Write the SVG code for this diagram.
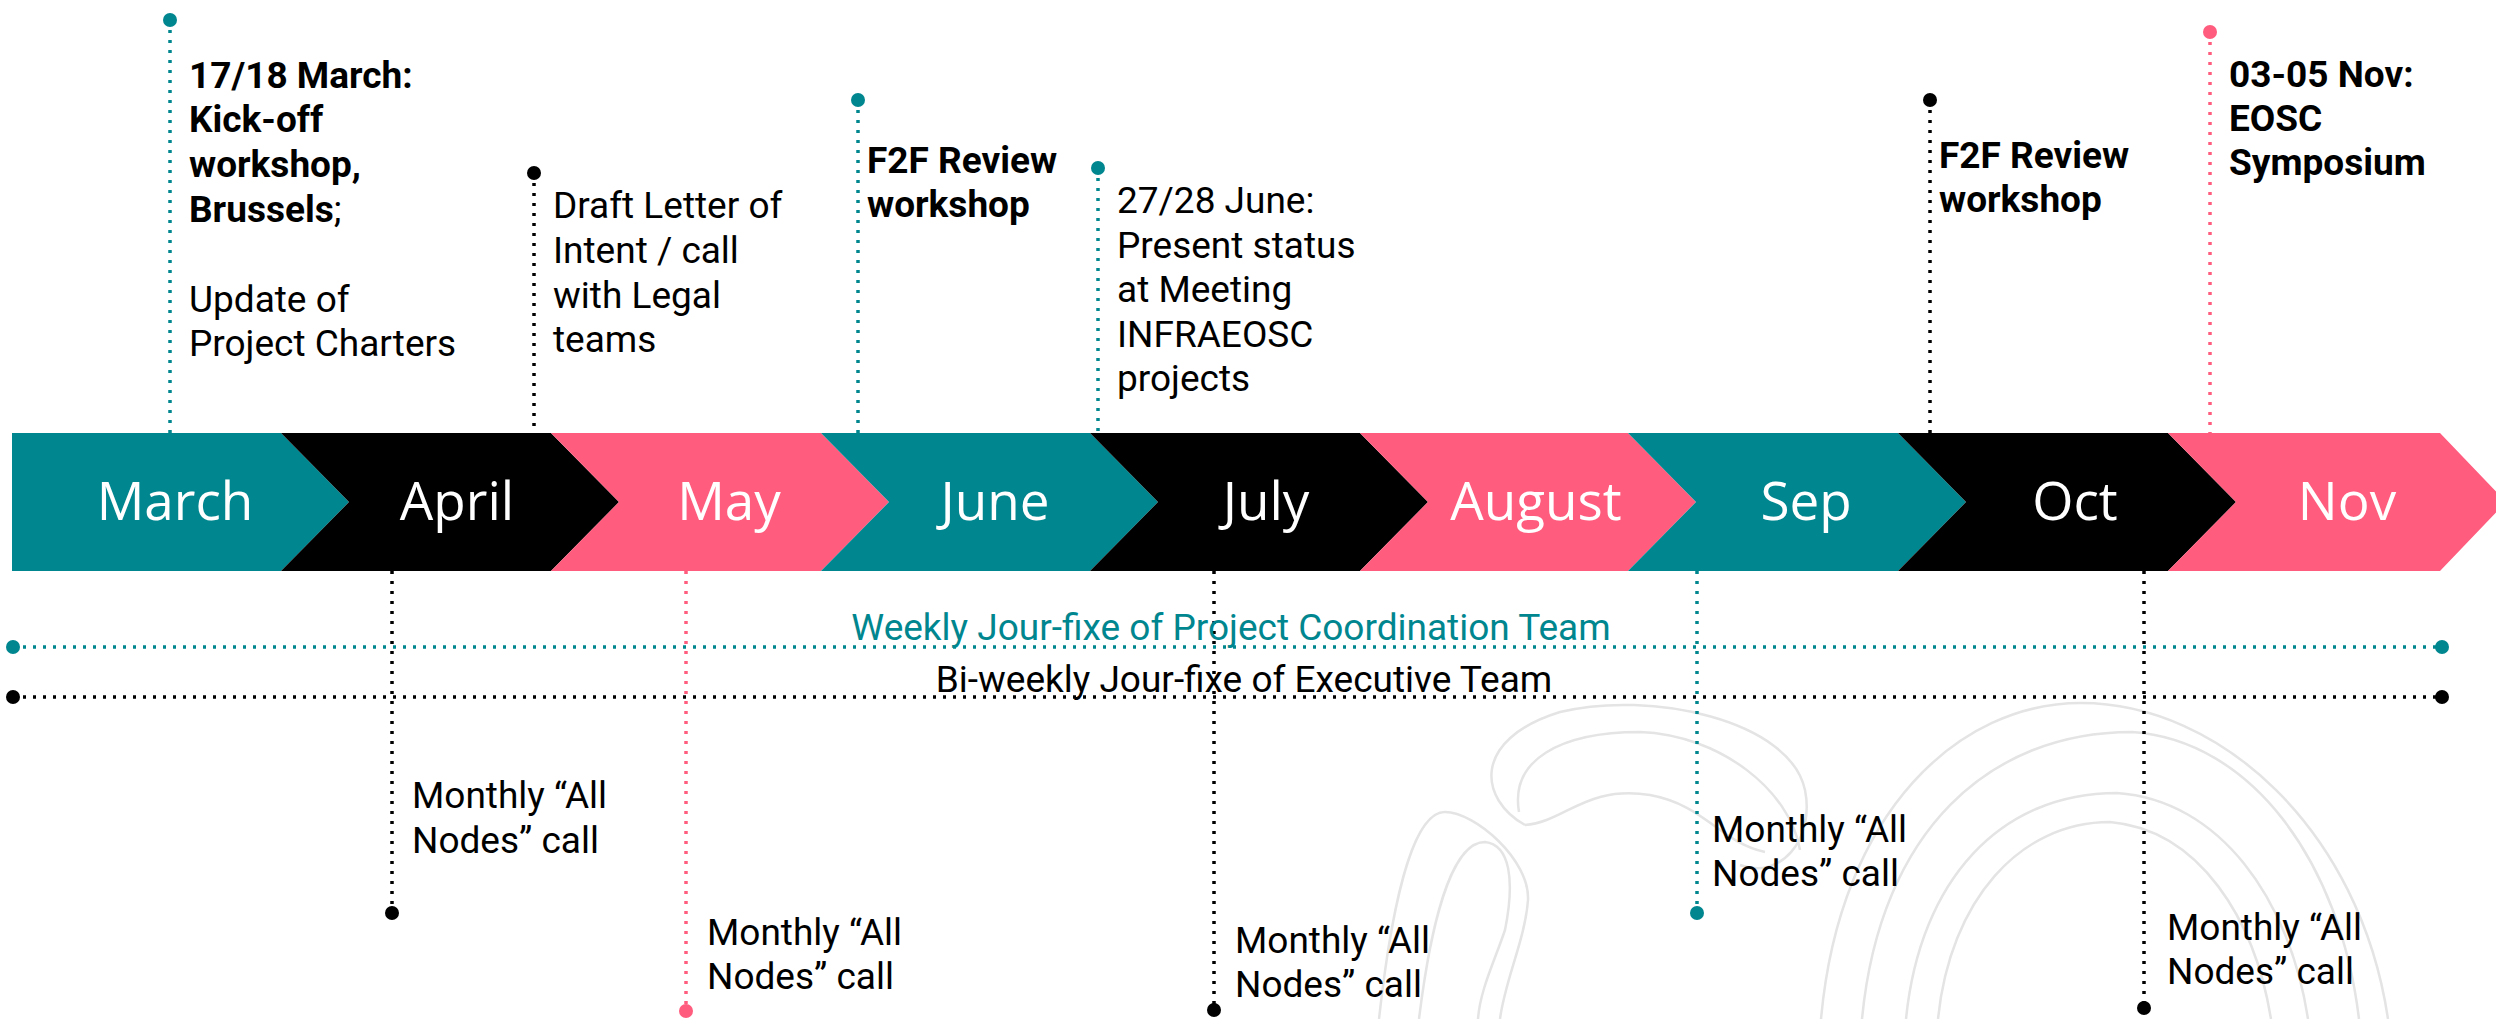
<svg xmlns="http://www.w3.org/2000/svg" width="2496" height="1019" viewBox="0 0 2496 1019">
<style>
.mon{font-family:"Open Sans","Noto Sans",sans-serif;font-size:53px;fill:#fff;text-anchor:middle}
.t{font-family:Roboto,"Liberation Sans",sans-serif;font-size:37px;fill:#000}
.b{font-weight:bold}
.dl{stroke-width:3.5;stroke-dasharray:3 7;fill:none}
.teal{fill:#00868F}.pink{fill:#FF5C7E}.blk{fill:#000}
.st{stroke:#00868F}.sp{stroke:#FF5C7E}.sb{stroke:#000}
.wm{fill:none;stroke:#e4e4e4;stroke-width:2.5}
</style>
<rect width="2496" height="1019" fill="#fff"/>
<g id="watermark">
<path class="wm" d="M1821 1019 C1840 810 1960 703 2081 703 C2220 703 2360 830 2388 1019"/>
<path class="wm" d="M1862 1019 C1880 830 1990 732 2132 732 C2250 740 2340 860 2359 1019"/>
<path class="wm" d="M1906 1019 C1920 880 2000 793 2117 793 C2220 800 2290 900 2308 1019"/>
<path class="wm" d="M1938 1019 C1950 900 2020 822 2110 822 C2200 830 2255 920 2271 1019"/>
<path class="wm" d="M1525 825 C1480 800 1470 740 1560 712 C1650 690 1790 720 1805 790 C1815 840 1780 880 1740 865"/>
<path class="wm" d="M1519 812 C1510 760 1560 732 1640 732 C1720 735 1790 790 1800 850"/>
<path class="wm" d="M1525 825 C1565 822 1585 785 1650 795 C1705 805 1720 842 1765 852"/>
<path class="wm" d="M1379 1019 C1390 920 1410 812 1445 812 C1475 812 1530 860 1528 900 C1525 940 1505 980 1500 1019"/>
<path class="wm" d="M1419 1019 C1430 930 1450 842 1485 842 C1510 845 1515 880 1505 930 C1495 960 1480 990 1478 1019"/>
</g>
<g id="banner">
<path class="teal" d="M12 433 H281 L349 502 L281 571 H12 Z"/>
<path class="blk" d="M281 433 H551 L619 502 L551 571 H281 L349 502 Z"/>
<path class="pink" d="M551 433 H821 L889 502 L821 571 H551 L619 502 Z"/>
<path class="teal" d="M821 433 H1090 L1158 502 L1090 571 H821 L889 502 Z"/>
<path class="blk" d="M1090 433 H1360 L1428 502 L1360 571 H1090 L1158 502 Z"/>
<path class="pink" d="M1360 433 H1628 L1696 502 L1628 571 H1360 L1428 502 Z"/>
<path class="teal" d="M1628 433 H1898 L1966 502 L1898 571 H1628 L1696 502 Z"/>
<path class="blk" d="M1898 433 H2168 L2236 502 L2168 571 H1898 L1966 502 Z"/>
<path class="pink" d="M2168 433 H2440 L2506 502 L2440 571 H2168 L2236 502 Z"/>
<text class="mon" x="175" y="520">March</text>
<text class="mon" x="457" y="520">April</text>
<text class="mon" x="729" y="520">May</text>
<text class="mon" x="995" y="520">June</text>
<text class="mon" x="1266" y="520">July</text>
<text class="mon" x="1536" y="520">August</text>
<text class="mon" x="1806" y="520">Sep</text>
<text class="mon" x="2075" y="520">Oct</text>
<text class="mon" x="2347" y="520">Nov</text>
</g>
<g id="connectors">
<line class="dl st" x1="170" y1="20" x2="170" y2="433"/>
<line class="dl sb" x1="534" y1="173" x2="534" y2="433"/>
<line class="dl st" x1="858" y1="100" x2="858" y2="433"/>
<line class="dl st" x1="1098" y1="168" x2="1098" y2="433"/>
<line class="dl sb" x1="1930" y1="100" x2="1930" y2="433"/>
<line class="dl sp" x1="2210" y1="32" x2="2210" y2="433"/>
<line class="dl sb" x1="392" y1="571" x2="392" y2="913"/>
<line class="dl sp" x1="686" y1="571" x2="686" y2="1011"/>
<line class="dl sb" x1="1214" y1="571" x2="1214" y2="1010"/>
<line class="dl st" x1="1697" y1="571" x2="1697" y2="913"/>
<line class="dl sb" x1="2144" y1="571" x2="2144" y2="1008"/>
<line class="dl st" x1="13" y1="647" x2="2442" y2="647"/>
<line class="dl sb" x1="13" y1="697" x2="2442" y2="697"/>
</g>
<g id="m1">
<circle class="teal" cx="170" cy="20" r="7"/>
<text class="t" x="189"><tspan class="b" x="189" y="88">17/18 March:</tspan><tspan class="b" x="189" y="132">Kick-off</tspan><tspan class="b" x="189" y="177">workshop,</tspan><tspan x="189" y="222"><tspan class="b">Brussels</tspan>;</tspan><tspan x="189" y="312">Update of</tspan><tspan x="189" y="356">Project Charters</tspan></text>
</g>
<g id="m2">
<circle class="blk" cx="534" cy="173" r="7"/>
<text class="t"><tspan x="553" y="218">Draft Letter of</tspan><tspan x="553" y="263">Intent / call</tspan><tspan x="553" y="308">with Legal</tspan><tspan x="553" y="352">teams</tspan></text>
</g>
<g id="m3">
<circle class="teal" cx="858" cy="100" r="7"/>
<text class="t b"><tspan x="867" y="173">F2F Review</tspan><tspan x="867" y="217">workshop</tspan></text>
</g>
<g id="m4">
<circle class="teal" cx="1098" cy="168" r="7"/>
<text class="t"><tspan x="1117" y="213">27/28 June:</tspan><tspan x="1117" y="258">Present status</tspan><tspan x="1117" y="302">at Meeting</tspan><tspan x="1117" y="347">INFRAEOSC</tspan><tspan x="1117" y="391">projects</tspan></text>
</g>
<g id="m5">
<circle class="blk" cx="1930" cy="100" r="7"/>
<text class="t b"><tspan x="1939" y="168">F2F Review</tspan><tspan x="1939" y="212">workshop</tspan></text>
</g>
<g id="m6">
<circle class="pink" cx="2210" cy="32" r="7"/>
<text class="t b"><tspan x="2229" y="87">03-05 Nov:</tspan><tspan x="2229" y="131">EOSC</tspan><tspan x="2229" y="175">Symposium</tspan></text>
</g>
<g id="weekly">
<circle class="teal" cx="13" cy="647" r="7"/>
<circle class="teal" cx="2442" cy="647" r="7"/>
<text class="t" x="1231" y="640" text-anchor="middle" fill="#00868F" style="fill:#00868F">Weekly Jour-fixe of Project Coordination Team</text>
</g>
<g id="biweekly">
<circle class="blk" cx="13" cy="697" r="7"/>
<circle class="blk" cx="2442" cy="697" r="7"/>
<text class="t" x="1244" y="692" text-anchor="middle">Bi-weekly Jour-fixe of Executive Team</text>
</g>
<g id="b1">
<circle class="blk" cx="392" cy="913" r="7"/>
<text class="t"><tspan x="412" y="808">Monthly “All</tspan><tspan x="412" y="853">Nodes” call</tspan></text>
</g>
<g id="b2">
<circle class="pink" cx="686" cy="1011" r="7"/>
<text class="t"><tspan x="707" y="945">Monthly “All</tspan><tspan x="707" y="989">Nodes” call</tspan></text>
</g>
<g id="b3">
<circle class="blk" cx="1214" cy="1010" r="7"/>
<text class="t"><tspan x="1235" y="953">Monthly “All</tspan><tspan x="1235" y="997">Nodes” call</tspan></text>
</g>
<g id="b4">
<circle class="teal" cx="1697" cy="913" r="7"/>
<text class="t"><tspan x="1712" y="842">Monthly “All</tspan><tspan x="1712" y="886">Nodes” call</tspan></text>
</g>
<g id="b5">
<circle class="blk" cx="2144" cy="1008" r="7"/>
<text class="t"><tspan x="2167" y="940">Monthly “All</tspan><tspan x="2167" y="984">Nodes” call</tspan></text>
</g>
</svg>
